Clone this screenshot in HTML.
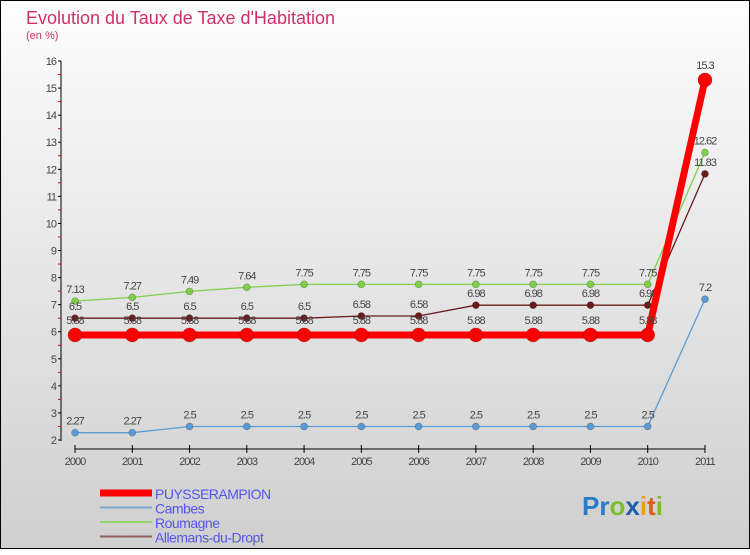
<!DOCTYPE html>
<html><head><meta charset="utf-8"><style>
body{margin:0;width:750px;height:550px;overflow:hidden}
svg{font-family:"Liberation Sans",sans-serif}
</style></head><body>
<svg width="750" height="550">
<defs><linearGradient id="bg" x1="0" y1="0" x2="0" y2="1"><stop offset="0" stop-color="#fdfdfd"/><stop offset="1" stop-color="#cfcfcf"/></linearGradient></defs>
<rect x="0.5" y="0.5" width="749" height="548" fill="url(#bg)" stroke="#000"/>
<text x="26" y="24" font-size="18" fill="#d0306a">Evolution du Taux de Taxe d'Habitation</text>
<text x="26" y="39" font-size="11" fill="#d0306a">(en %)</text>
<g id="axes"></g><g id="series"></g><g id="legend"></g>
<g font-size="26" font-weight="bold">
<text x="582" y="515"><tspan fill="#2a7cc9">Pr</tspan><tspan fill="#7bbf2a">o</tspan><tspan fill="#1a5fb0">x</tspan><tspan fill="#f39b17">i</tspan><tspan fill="#e05a1a">t</tspan><tspan fill="#7bbf2a">i</tspan></text></g>
</svg>
<script>
const years=[2000,2001,2002,2003,2004,2005,2006,2007,2008,2009,2010,2011];
const puy=[5.88,5.88,5.88,5.88,5.88,5.88,5.88,5.88,5.88,5.88,5.88,15.3];
const cambes=[2.27,2.27,2.5,2.5,2.5,2.5,2.5,2.5,2.5,2.5,2.5,7.2];
const roum=[7.13,7.27,7.49,7.64,7.75,7.75,7.75,7.75,7.75,7.75,7.75,12.62];
const alle=[6.5,6.5,6.5,6.5,6.5,6.58,6.58,6.98,6.98,6.98,6.98,11.83];
const yTicks=[2,3,4,5,6,7,8,9,10,11,12,13,14,15,16];
const NS="http://www.w3.org/2000/svg";
const X=i=>75+i*57.27, Y=v=>440-(v-2)*27.07;
function mk(tag,at,parent,txt){const e=document.createElementNS(NS,tag);for(const k in at)e.setAttribute(k,at[k]);if(txt!==undefined)e.textContent=txt;parent.appendChild(e);return e;}
const ax=document.getElementById('axes');
let l=mk('line',{x1:61,y1:61,x2:61,y2:441,stroke:'#000'},ax);


l=mk('line',{x1:75,y1:449,x2:705,y2:449,stroke:'#000'},ax);


yTicks.forEach(v=>{const y=Y(v);
 mk('line',{x1:58,y1:y,x2:61,y2:y,stroke:'#000'},ax);
 if(v<16)mk('line',{x1:58,y1:Y(v+0.5),x2:61,y2:Y(v+0.5),stroke:'#e00'},ax);
 const t=mk('text',{x:56,y:y+4,'font-size':11,fill:'#444','text-anchor':'end','letter-spacing':'-1'},ax,v);
 
 });
years.forEach((yr,i)=>{const x=X(i);
 mk('line',{x1:x,y1:445,x2:x,y2:453,stroke:'#000'},ax);
 const t=mk('text',{x:x,y:465,'font-size':11,fill:'#444','text-anchor':'middle','letter-spacing':'-1'},ax,yr);
 
 });
const sg=document.getElementById('series');
function series(vals,color,w,r,name,dy){
 const g=mk('g',{},sg);
 
 
 mk('polyline',{points:vals.map((v,i)=>X(i)+','+Y(v)).join(' '),fill:'none',stroke:color,'stroke-width':w},g);
 vals.forEach((v,i)=>{const c=mk('circle',{cx:X(i),cy:Y(v),r:r,fill:color,stroke:'rgba(0,0,0,0.3)','stroke-width':0.6},g);
  
  
  mk('text',{x:X(i),y:Y(v)-dy,'font-size':11,fill:'#444','text-anchor':'middle','letter-spacing':'-1'},g,v);});
}
series(cambes,'#5b9bd5',1.3,3.5,'series-cambes',8);
series(roum,'#7ed04b',1.3,3.5,'series-roumagne',8);
series(alle,'#6b1a1a',1.3,3.5,'series-allemans',8);
series(puy,'#f00',7,7,'series-puysserampion',11);
const lg=document.getElementById('legend');
const items=[['PUYSSERAMPION','#f00',7],['Cambes','#7ba7cc',2],['Roumagne','#8fd86a',2],['Allemans-du-Dropt','#946060',2]];
items.forEach((it,i)=>{const y=493+i*14.5;
 const g=mk('g',{},lg);
 
 
 mk('line',{x1:100,y1:y,x2:152,y2:y,stroke:it[1],'stroke-width':it[2]},g);
 mk('text',{x:155,y:y+6,'font-size':14,fill:'#5555ee','letter-spacing':'-0.5'},g,it[0]);});
</script>
</body></html>
